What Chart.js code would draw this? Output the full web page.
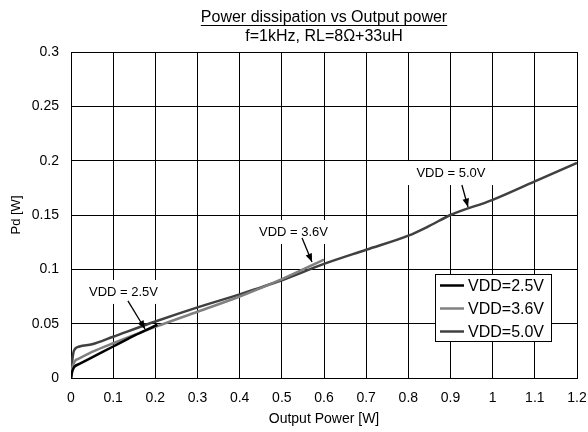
<!DOCTYPE html>
<html>
<head>
<meta charset="utf-8">
<script src="https://cdn.jsdelivr.net/npm/chart.js@4"></script>
<style>
html,body{margin:0;padding:0;background:#fff;}
#wrap{width:588px;height:432px;position:relative;}
</style>
</head>
<body>
<div id="wrap"><canvas id="c" width="588" height="432"></canvas></div>
<script>
const titleText = "Power dissipation vs Output power";
const subtitleText = "f=1kHz, RL=8\u03A9+33uH";
const xTitle = "Output Power [W]";
const yTitle = "Pd [W]";
const seriesLabels = ["VDD=2.5V", "VDD=3.6V", "VDD=5.0V"];

const x25 = [0, 0.003, 0.006, 0.01, 0.02, 0.05, 0.1, 0.15, 0.205];
const y25 = [0, 0.006, 0.009, 0.011, 0.013, 0.019, 0.029, 0.039, 0.049];

const x36 = [0, 0.003, 0.006, 0.01, 0.02, 0.05, 0.1, 0.2, 0.3, 0.4, 0.5, 0.6];
const y36 = [0, 0.009, 0.013, 0.016, 0.018, 0.024, 0.032, 0.047, 0.061, 0.075, 0.091, 0.109];

const x50 = [0, 0.003, 0.006, 0.01, 0.02, 0.05, 0.1, 0.2, 0.3, 0.4, 0.5, 0.6, 0.7, 0.8, 0.85, 0.9, 1.0, 1.1, 1.2];
const y50 = [0, 0.016, 0.024, 0.027, 0.029, 0.031, 0.038, 0.052, 0.065, 0.077, 0.090, 0.105, 0.118, 0.131, 0.140, 0.150, 0.164, 0.181, 0.198];

// annotation: label text, label anchor (data), arrow tail and tip (data)
const annLabels = ["VDD = 2.5V", "VDD = 3.6V", "VDD = 5.0V"];
const annTextX = [0.1245, 0.5276, 0.901];
const annTextY = [0.0792, 0.1344, 0.1886];
const annTailX = [0.135, 0.548, 0.927];
const annTailY = [0.0709, 0.1288, 0.1776];
const annTipX = [0.1755, 0.5715, 0.9415];
const annTipY = [0.0451, 0.1067, 0.1574];

const colors = ["#000000", "#808080", "#404040"];

function pts(xs, ys){ return xs.map((x,i)=>({x:x, y:ys[i]})); }

const FONT = '"Liberation Sans", Arial, sans-serif';

const overlay = {
  id: 'overlay',
  afterDraw(chart){
    const ctx = chart.ctx;
    const xs = chart.scales.x, ys = chart.scales.y;
    const ca = chart.chartArea;
    const cx = (ca.left + ca.right)/2;
    ctx.save();
    // titles
    ctx.fillStyle = '#000';
    ctx.textAlign = 'center';
    ctx.textBaseline = 'alphabetic';
    ctx.font = '16px ' + FONT;
    ctx.fillText(titleText, cx, 22);
    const w = ctx.measureText(titleText).width;
    ctx.strokeStyle = '#000'; ctx.lineWidth = 1;
    ctx.beginPath(); ctx.moveTo(cx - w/2, 25.5); ctx.lineTo(cx + w/2, 25.5); ctx.stroke();
    ctx.fillText(subtitleText, cx, 41);

    // annotations
    ctx.font = '13px ' + FONT;
    for (let i=0;i<annLabels.length;i++){
      const tx = xs.getPixelForValue(annTextX[i]);
      const ty = ys.getPixelForValue(annTextY[i]);
      const tw = ctx.measureText(annLabels[i]).width;
      ctx.fillStyle = '#fff';
      ctx.fillRect(tx - tw/2 - 11, ty - 12, tw + 22, 24);
      ctx.fillStyle = '#000';
      ctx.textBaseline = 'middle';
      ctx.fillText(annLabels[i], tx, ty);
      const ax = xs.getPixelForValue(annTailX[i]);
      const ay = ys.getPixelForValue(annTailY[i]);
      const bx = xs.getPixelForValue(annTipX[i]);
      const by = ys.getPixelForValue(annTipY[i]);
      ctx.strokeStyle = '#000'; ctx.lineWidth = 1.3;
      ctx.beginPath(); ctx.moveTo(ax, ay); ctx.lineTo(bx, by); ctx.stroke();
      const ang = Math.atan2(by-ay, bx-ax);
      const L = 9, hw = 0.38;
      ctx.beginPath();
      ctx.moveTo(bx, by);
      ctx.lineTo(bx - L*Math.cos(ang-hw), by - L*Math.sin(ang-hw));
      ctx.lineTo(bx - L*Math.cos(ang+hw), by - L*Math.sin(ang+hw));
      ctx.closePath(); ctx.fill();
    }

    // legend
    const lx = 435, ly = 274, lw = 116, lh = 67;
    ctx.fillStyle = '#fff';
    ctx.fillRect(lx, ly, lw, lh);
    ctx.strokeStyle = '#000'; ctx.lineWidth = 1;
    ctx.strokeRect(lx + 0.5, ly + 0.5, lw, lh);
    ctx.font = '16px ' + FONT;
    ctx.textAlign = 'left'; ctx.textBaseline = 'middle';
    chart.data.datasets.forEach((ds, i) => {
      const yy = ly + 11.5 + i*23;
      ctx.strokeStyle = ds.borderColor; ctx.lineWidth = 2.5;
      ctx.beginPath(); ctx.moveTo(lx + 5, yy); ctx.lineTo(lx + 29, yy); ctx.stroke();
      ctx.fillStyle = '#000';
      ctx.fillText(ds.label, lx + 33, yy + 1);
    });
    ctx.restore();
  }
};

const fmt = v => String(parseFloat(Number(v).toFixed(2)));

new Chart(document.getElementById('c'), {
  type: 'line',
  data: {
    datasets: [
      {label: seriesLabels[0], data: pts(x25, y25), borderColor: colors[0]},
      {label: seriesLabels[1], data: pts(x36, y36), borderColor: colors[1]},
      {label: seriesLabels[2], data: pts(x50, y50), borderColor: colors[2]}
    ].map(d => Object.assign(d, {borderWidth: 2.5, pointRadius: 0, fill: false, cubicInterpolationMode: 'monotone'}))
  },
  options: {
    responsive: false,
    animation: false,
    devicePixelRatio: 1,
    layout: {padding: {left: 0, right: 11, top: 52, bottom: 0}},
    plugins: {legend: {display: false}, title: {display: false}, tooltip: {enabled: false}},
    scales: {
      x: {
        type: 'linear', min: 0, max: 1.2,
        afterFit: s => { s.height = 54; s.paddingLeft = 0; s.paddingRight = 0; },
        ticks: {stepSize: 0.1, callback: fmt, color: '#000', font: {size: 14, family: FONT}, padding: 12, maxRotation: 0},
        grid: {color: '#000', lineWidth: 1, drawTicks: false},
        border: {color: '#000', width: 1},
        title: {display: true, text: xTitle, color: '#000', font: {size: 14, family: FONT}, padding: {top: 2, bottom: 4}}
      },
      y: {
        type: 'linear', min: 0, max: 0.3,
        afterFit: s => { s.width = 71; s.paddingTop = 0; s.paddingBottom = 0; },
        ticks: {stepSize: 0.05, callback: fmt, color: '#000', font: {size: 14, family: FONT}, padding: 12},
        grid: {color: '#000', lineWidth: 1, drawTicks: false},
        border: {color: '#000', width: 1},
        title: {display: true, text: yTitle, color: '#000', font: {size: 13, family: FONT}, padding: {top: 9, bottom: 0}}
      }
    }
  },
  plugins: [overlay]
});
</script>
</body>
</html>
